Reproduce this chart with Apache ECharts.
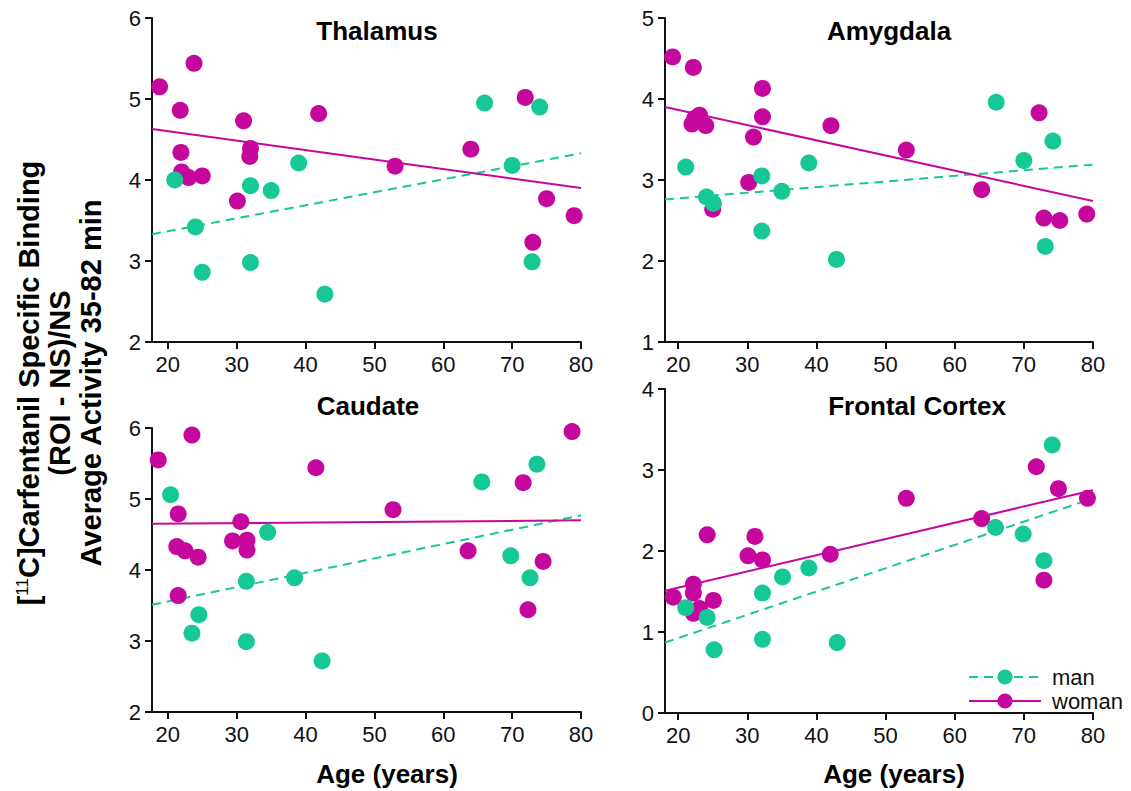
<!DOCTYPE html>
<html><head><meta charset="utf-8">
<script src="https://cdn.jsdelivr.net/npm/echarts@6/dist/echarts.min.js"></script>
<style>html,body{margin:0;padding:0;background:#fff}#c{width:1131px;height:791px}</style>
</head><body><div id="c"></div>
<script>
// ---------- data ----------
const ageTicks = [20, 30, 40, 50, 60, 70, 80];
const panelTitles = ['Thalamus', 'Amygdala', 'Caudate', 'Frontal Cortex'];
const groupNames = ['man', 'woman'];
const xTitle = 'Age (years)';
const yTitleLines = ['[{sup|11}C]Carfentanil Specific Binding', '(ROI - NS)/NS', 'Average Activity 35-82 min'];

const thalamusMan = [[21,4.0],[24,3.42],[25,2.86],[32,3.93],[35,3.87],[32,2.98],[39,4.21],[42.8,2.59],[66,4.95],[70,4.18],[74,4.90],[72.9,2.99]];
const thalamusWoman = [[18.8,5.15],[23.8,5.44],[21.8,4.86],[21.9,4.34],[22,4.10],[23,4.03],[25,4.05],[31,4.73],[32,4.39],[31.9,4.29],[30.1,3.74],[41.9,4.82],[53,4.17],[64,4.38],[71.9,5.02],[75,3.77],[79,3.56],[73,3.23]];
const thalamusManFit = [[17.7,3.33],[80,4.33]];
const thalamusWomanFit = [[17.7,4.63],[80,3.90]];

const amygdalaMan = [[21.1,3.16],[24.1,2.79],[25.1,2.71],[32.1,3.05],[32.1,2.37],[35.0,2.86],[38.9,3.21],[42.9,2.02],[66.0,3.96],[70.0,3.24],[74.2,3.48],[73.1,2.18]];
const amygdalaWoman = [[19.2,4.52],[22.2,4.39],[22.0,3.69],[22.4,3.76],[23.1,3.80],[24.0,3.67],[25.0,2.64],[30.9,3.53],[32.2,4.13],[32.2,3.78],[30.2,2.97],[42.1,3.67],[53.0,3.37],[63.9,2.88],[72.2,3.83],[72.9,2.53],[75.2,2.50],[79.1,2.58]];
const amygdalaManFit = [[18.1,2.76],[80,3.19]];
const amygdalaWomanFit = [[18.1,3.90],[80,2.74]];

const caudateMan = [[20.4,5.06],[24.5,3.37],[23.5,3.11],[31.4,3.84],[31.4,2.99],[34.5,4.53],[38.4,3.89],[42.4,2.72],[65.6,5.24],[69.8,4.20],[73.6,5.49],[72.6,3.89]];
const caudateWoman = [[18.6,5.55],[23.5,5.90],[21.5,4.79],[21.3,4.33],[22.5,4.27],[24.4,4.18],[21.5,3.64],[30.6,4.68],[29.4,4.41],[31.5,4.42],[31.5,4.28],[41.5,5.44],[52.7,4.85],[63.6,4.27],[71.6,5.23],[74.5,4.12],[72.3,3.44],[78.7,5.95]];
const caudateManFit = [[17.7,3.51],[80,4.77]];
const caudateWomanFit = [[17.7,4.65],[80,4.70]];

const frontalMan = [[21.1,1.30],[24.2,1.18],[25.2,0.78],[32.2,1.48],[32.2,0.91],[35.1,1.68],[38.9,1.79],[43.0,0.87],[65.9,2.29],[69.9,2.21],[74.1,3.31],[72.9,1.88]];
const frontalWoman = [[19.3,1.43],[22.2,1.59],[22.2,1.48],[22.2,1.23],[23.1,1.29],[25.1,1.39],[24.2,2.20],[30.1,1.94],[31.1,2.18],[32.2,1.89],[42.0,1.96],[53.0,2.65],[63.9,2.40],[71.8,3.04],[75.0,2.77],[79.2,2.65],[72.9,1.64]];
const frontalManFit = [[18.1,0.87],[80,2.65]];
const frontalWomanFit = [[18.1,1.51],[80,2.75]];

const yRanges = [[2,6],[1,5],[2,6],[0,4]];
const xMins = [17.7, 18.1, 17.7, 18.1];

// ---------- build ----------
const FONT = 'Liberation Sans, Arial, Helvetica, sans-serif';
const TEAL = '#16c895';
const MAG = '#c5079d';

const panels = [
  {man: thalamusMan, woman: thalamusWoman, manFit: thalamusManFit, womanFit: thalamusWomanFit},
  {man: amygdalaMan, woman: amygdalaWoman, manFit: amygdalaManFit, womanFit: amygdalaWomanFit},
  {man: caudateMan, woman: caudateWoman, manFit: caudateManFit, womanFit: caudateWomanFit},
  {man: frontalMan, woman: frontalWoman, manFit: frontalManFit, womanFit: frontalWomanFit}
];

const gridBoxes = [
  {left: 152, top: 18, width: 429, height: 324},
  {left: 665, top: 18, width: 428, height: 324},
  {left: 152, top: 428, width: 429, height: 284},
  {left: 665, top: 389, width: 428, height: 324}
];

const axisLine = {show: true, onZero: false, lineStyle: {color: '#111', width: 2}};
const axisTick = {show: true, inside: false, length: 7, lineStyle: {color: '#111', width: 2}};
const labelStyle = {color: '#111', fontSize: 22, fontFamily: FONT};

const grid = gridBoxes.map(g => Object.assign({containLabel: false, outerBoundsMode: 'none'}, g));
const xAxis = gridBoxes.map((g, i) => ({
  type: 'value', gridIndex: i, min: xMins[i], max: 80,
  axisLine: axisLine,
  axisTick: Object.assign({customValues: ageTicks}, axisTick),
  axisLabel: Object.assign({customValues: ageTicks, margin: 11}, labelStyle),
  splitLine: {show: false}
}));
const yAxis = gridBoxes.map((g, i) => ({
  type: 'value', gridIndex: i, min: yRanges[i][0], max: yRanges[i][1], interval: 1,
  axisLine: axisLine, axisTick: axisTick,
  axisLabel: Object.assign({margin: 11}, labelStyle),
  splitLine: {show: false}
}));

const dashed = [9, 6];
const series = [];
panels.forEach((p, i) => {
  series.push({
    name: groupNames[0], type: 'line', xAxisIndex: i, yAxisIndex: i, data: p.manFit,
    symbol: 'circle', showSymbol: false, silent: true, z: 2,
    itemStyle: {color: TEAL}, lineStyle: {color: TEAL, width: 2, type: dashed}
  });
  series.push({
    name: groupNames[1], type: 'line', xAxisIndex: i, yAxisIndex: i, data: p.womanFit,
    symbol: 'circle', showSymbol: false, silent: true, z: 2,
    itemStyle: {color: MAG}, lineStyle: {color: MAG, width: 2, type: 'solid'}
  });
});
panels.forEach((p, i) => {
  series.push({
    name: groupNames[1], type: 'scatter', xAxisIndex: i, yAxisIndex: i, data: p.woman,
    symbol: 'circle', symbolSize: 17, z: 3, itemStyle: {color: MAG, opacity: 1}
  });
  series.push({
    name: groupNames[0], type: 'scatter', xAxisIndex: i, yAxisIndex: i, data: p.man,
    symbol: 'circle', symbolSize: 17, z: 4, itemStyle: {color: TEAL, opacity: 1}
  });
});

const titlePos = [[377, 31], [889, 31], [368, 406], [917, 406]];
const graphic = [];
panelTitles.forEach((t, i) => {
  graphic.push({type: 'text', x: titlePos[i][0], y: titlePos[i][1], silent: true,
    style: {text: t, fill: '#000', font: 'bold 26px ' + FONT, textAlign: 'center', textVerticalAlign: 'middle'}});
});
[[387, 774], [894, 774]].forEach(pos => {
  graphic.push({type: 'text', x: pos[0], y: pos[1], silent: true,
    style: {text: xTitle, fill: '#000', font: 'bold 26px ' + FONT, textAlign: 'center', textVerticalAlign: 'middle'}});
});
graphic.push({
  type: 'text', x: 60, y: 383, rotation: Math.PI / 2, silent: true,
  style: {
    text: yTitleLines.join('\n'), fill: '#000', fontSize: 29, fontWeight: 'bold', fontFamily: FONT,
    lineHeight: 31, align: 'center', verticalAlign: 'middle',
    rich: {sup: {fontSize: 17, fontWeight: 'normal', fontFamily: FONT, fill: '#000', verticalAlign: 'top', lineHeight: 31, padding: [0, 0, 10, 0]}}
  }
});

const option = {
  backgroundColor: '#fff',
  animation: false,
  grid, xAxis, yAxis, series, graphic,
  legend: {
    data: groupNames, orient: 'vertical', left: 968, top: 666, padding: 0,
    itemWidth: 72, itemHeight: 19, itemGap: 2,
    textStyle: {fontSize: 22, color: '#111', fontFamily: FONT, padding: [0, 0, 0, 6]},
    selectedMode: false
  }
};
const chart = echarts.init(document.getElementById('c'), null, {renderer: 'svg'});
chart.setOption(option);
</script>
</body></html>
